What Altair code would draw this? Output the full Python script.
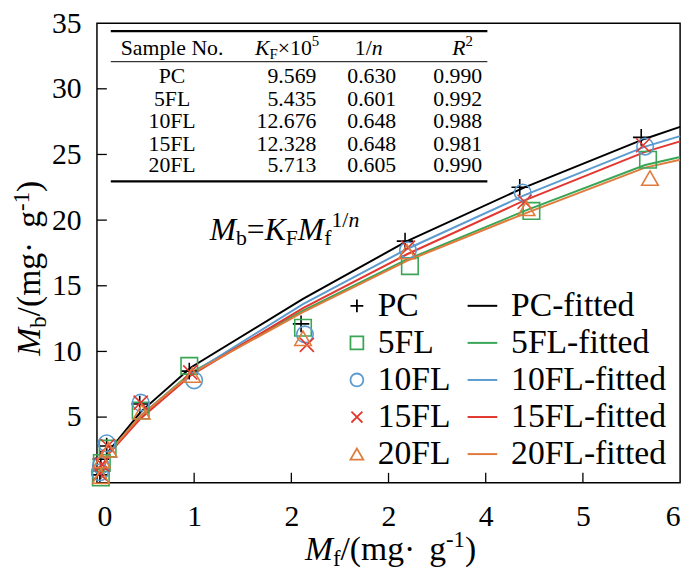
import altair as alt
import pandas as pd

SERIF = "Liberation Serif"

# ---------------- data ----------------
SAMPLES = ["PC", "5FL", "10FL", "15FL", "20FL"]
FITTED = ["PC-fitted", "5FL-fitted", "10FL-fitted", "15FL-fitted", "20FL-fitted"]
COLORS = ["#000000", "#3aa655", "#5b9bd0", "#e2372f", "#e07b3c"]

PC_X = [0.03, 0.04, 0.10, 0.44, 0.95, 2.10, 3.17, 4.35, 5.60]
PC_Y = [0.6, 1.8, 2.8, 6.0, 8.5, 12.1, 18.4, 22.5, 26.3]
FL5_X = [0.04, 0.05, 0.11, 0.45, 0.95, 2.12, 3.22, 4.47, 5.67]
FL5_Y = [0.4, 1.5, 2.6, 5.5, 8.9, 11.8, 16.5, 20.7, 24.6]
FL10_X = [0.03, 0.04, 0.10, 0.45, 1.00, 2.14, 3.20, 4.38, 5.64]
FL10_Y = [0.8, 1.3, 3.0, 6.1, 7.8, 11.3, 17.7, 22.1, 25.6]
FL15_X = [0.03, 0.05, 0.11, 0.45, 0.96, 2.16, 3.20, 4.40, 5.62]
FL15_Y = [0.7, 1.4, 2.8, 6.1, 8.4, 10.5, 17.9, 21.4, 25.7]
FL20_X = [0.04, 0.05, 0.12, 0.46, 0.98, 2.12, 3.19, 4.42, 5.69]
FL20_Y = [0.5, 1.7, 2.5, 5.4, 8.2, 11.0, 17.6, 20.9, 23.2]

FIT_X = [0.04, 0.11, 0.45, 0.97, 2.12, 3.19, 4.40, 5.64, 6.00]
PC_FIT = [0.3, 2.3, 5.4, 8.8, 14.0, 18.4, 22.5, 26.2, 27.1]
FL5_FIT = [0.3, 2.2, 5.1, 8.4, 13.1, 17.0, 20.7, 24.2, 24.8]
FL10_FIT = [0.3, 2.2, 5.1, 8.3, 13.6, 17.8, 21.9, 25.6, 26.4]
FL15_FIT = [0.3, 2.1, 4.9, 8.2, 13.3, 17.4, 21.5, 25.2, 26.0]
FL20_FIT = [0.3, 2.2, 5.1, 8.3, 13.0, 16.9, 20.5, 24.0, 24.6]

TABLE_KF = ["9.569", "5.435", "12.676", "12.328", "5.713"]
TABLE_N = ["0.630", "0.601", "0.648", "0.648", "0.605"]
TABLE_R2 = ["0.990", "0.992", "0.988", "0.981", "0.990"]

X_TICKS = [0, 1, 2, 3, 4, 5, 6]
X_TICK_LABELS = ["0", "1", "2", "2", "4", "5", "6"]
Y_TICKS = [5, 10, 15, 20, 25, 30, 35]

# ---------------- layout ----------------
PX0, PY0 = 98, 20          # plot origin on page
W, H = 688 - PX0, 485 - PY0
SVG_H = 566

PLUS = "M-1,0L1,0M0,-1L0,1"
CROSS = "M-0.85,-0.85L0.85,0.85M-0.85,0.85L0.85,-0.85"
SHAPES = [PLUS, "square", "circle", CROSS, "triangle-up"]

pts_x = [PC_X, FL5_X, FL10_X, FL15_X, FL20_X]
pts_y = [PC_Y, FL5_Y, FL10_Y, FL15_Y, FL20_Y]
fits = [PC_FIT, FL5_FIT, FL10_FIT, FL15_FIT, FL20_FIT]

rows = []
for s, xs, ys in zip(SAMPLES, pts_x, pts_y):
    for a, b in zip(xs, ys):
        rows.append({"sample": s, "x": a, "y": b})
df_pts = pd.DataFrame(rows)

rows = []
for f, ys in zip(FITTED, fits):
    for a, b in zip(FIT_X, ys):
        rows.append({"fit": f, "x": a, "y": b})
df_fit = pd.DataFrame(rows)

label_expr = "[" + ",".join("'%s'" % t for t in X_TICK_LABELS) + "][datum.value]"

xscale = alt.Scale(domain=[0, 6], nice=False, zero=False)
yscale = alt.Scale(domain=[0, 35], nice=False, zero=False)
xaxis = alt.Axis(values=X_TICKS, labelExpr=label_expr, tickSize=0, domain=False, grid=False,
                 labelFont=SERIF, labelFontSize=30, labelColor="black", labelPadding=19,
                 title=None)
yaxis = alt.Axis(values=Y_TICKS, tickSize=0, domain=False, grid=False,
                 labelFont=SERIF, labelFontSize=30, labelColor="black", labelPadding=16,
                 title=None)
X = alt.X("x:Q", scale=xscale, axis=xaxis)
Y = alt.Y("y:Q", scale=yscale, axis=yaxis)

LFS = 34
LEG_Y = 306 - PY0 - LFS / 2
leg_common = dict(orient="none", title=None, labelFont=SERIF, labelFontSize=LFS,
                  labelColor="black", padding=0, rowPadding=3.5, labelLimit=400)

pt_legend = alt.Legend(legendX=344 - PX0, legendY=LEG_Y, symbolSize=170, symbolStrokeWidth=1.8,
                       labelOffset=4, **leg_common)
ln_legend = alt.Legend(legendX=471 - PX0, legendY=LEG_Y, symbolSize=900, symbolStrokeWidth=2,
                       symbolType="stroke", labelOffset=12, **leg_common)

lines = alt.Chart(df_fit).mark_line(strokeWidth=2).encode(
    x=X, y=Y,
    stroke=alt.Stroke("fit:N", scale=alt.Scale(domain=FITTED, range=COLORS), legend=ln_legend),
)
points = alt.Chart(df_pts).mark_point(filled=False, size=280, strokeWidth=1.6, opacity=1).encode(
    x=X, y=Y,
    color=alt.Color("sample:N", scale=alt.Scale(domain=SAMPLES, range=COLORS), legend=pt_legend),
    shape=alt.Shape("sample:N", scale=alt.Scale(domain=SAMPLES, range=SHAPES), legend=pt_legend),
)
xt = alt.Chart(pd.DataFrame({"x": X_TICKS[1:-1]})).mark_rule(color="black", strokeWidth=1.3).encode(
    x=X, y=alt.value(H), y2=alt.value(H - 10))
yt = alt.Chart(pd.DataFrame({"y": Y_TICKS[:-1]})).mark_rule(color="black", strokeWidth=1.3).encode(
    y=Y, x=alt.value(0), x2=alt.value(10))

data_layer = alt.layer(lines, points, xt, yt)

# ---------------- composite texts ----------------
WR = {' ': 250, '/': 278, '(': 333, ')': 333, 'm': 778, 'g': 500, '·': 250, '-': 333,
      '1': 500, 'b': 500, 'f': 333, 'F': 556, '=': 564, '×': 564, '0': 500, '5': 500,
      '2': 500, 'n': 500}
WI = {'M': 833, 'K': 667, 'n': 500, 'R': 611, 'f': 278}


def tw(t, size, italic):
    d = WI if italic else WR
    return sum(d.get(c, 500) for c in t) * size / 1000.0


def compose(pieces, start, base, angle=0, center=False):
    total = sum(tw(t, s, it) for t, it, s, sh in pieces)
    if center:
        start = start - total / 2 if angle == 0 else start + total / 2
    out = []
    pos = start
    for t, it, s, sh in pieces:
        if angle == 0:
            out.append((t, it, s, pos, base + sh, 0))
            pos += tw(t, s, it)
        else:
            out.append((t, it, s, base + sh, pos, 270))
            pos -= tw(t, s, it)
    return out


texts = []
# equation
E, ES = 32, 22
texts += compose([("M", True, E, 0), ("b", False, ES, 5), ("=", False, E, 0), ("K", True, E, 0),
                  ("F", False, ES, 5), ("M", True, E, 0), ("f", False, ES, 5),
                  ("1/", False, ES, -13), ("n", True, ES, -13)], 212, 239)
# axis titles
A, AS = 34, 23
texts += compose([("M", True, A, 0), ("f", False, AS, 6), ("/(mg", False, A, 0), (" · ", False, A, 0),
                  ("g", False, A, 0), ("-1", False, AS, -13), (")", False, A, 0)], 395, 563, center=True)
texts += compose([("M", True, A, 0), ("b", False, AS, 6), ("/(mg", False, A, 0), (" · ", False, A, 0),
                  ("g", False, A, 0), ("-1", False, AS, -11), (")", False, A, 0)], 268, 40,
                 angle=270, center=True)
# table header
T, TS = 22, 15
HB = 52
texts += compose([("K", True, T, 0), ("F", False, TS, 4), ("×10", False, T, 0), ("5", False, TS, -9)], 258, HB)
texts += compose([("1/", False, T, 0), ("n", True, T, 0)], 373, HB, center=True)
texts += compose([("R", True, T, 0), ("2", False, TS, -9)], 468, HB, center=True)

centered = [("Sample No.", 174, HB)]
right = []
ROW_B = [81, 104, 126, 149, 171]
for i, s in enumerate(SAMPLES):
    centered.append((s, 174, ROW_B[i]))
    right.append((TABLE_KF[i], 320, ROW_B[i]))
    centered.append((TABLE_N[i], 376, ROW_B[i]))
    centered.append((TABLE_R2[i], 463, ROW_B[i]))

layers = []
groups = {}
for t, it, s, x, y, ang in texts:
    groups.setdefault((it, s, ang), []).append({"t": t, "px": x - PX0, "py": y - PY0})
for (it, s, ang), recs in groups.items():
    layers.append(alt.Chart(pd.DataFrame(recs)).mark_text(
        font=SERIF, fontSize=s, fontStyle="italic" if it else "normal", align="left",
        baseline="alphabetic", angle=ang, color="black").encode(
        x=alt.X("px:Q", scale=None, axis=None), y=alt.Y("py:Q", scale=None, axis=None), text="t:N"))

for recs, al in ((centered, "center"), (right, "right")):
    df = pd.DataFrame([{"t": t, "px": x - PX0, "py": y - PY0} for t, x, y in recs])
    layers.append(alt.Chart(df).mark_text(font=SERIF, fontSize=T, align=al, baseline="alphabetic",
                                          color="black").encode(
        x=alt.X("px:Q", scale=None, axis=None), y=alt.Y("py:Q", scale=None, axis=None), text="t:N"))

# table rules
rules = pd.DataFrame([
    {"x": 112 - PX0, "x2": 493 - PX0, "y": 28 - PY0, "w": 2.2},
    {"x": 112 - PX0, "x2": 493 - PX0, "y": 59 - PY0, "w": 1.0},
    {"x": 112 - PX0, "x2": 493 - PX0, "y": 180 - PY0, "w": 2.2},
])
layers.append(alt.Chart(rules).mark_rule(color="black").encode(
    x=alt.X("x:Q", scale=None, axis=None), x2="x2:Q", y=alt.Y("y:Q", scale=None, axis=None),
    strokeWidth=alt.StrokeWidth("w:Q", scale=None, legend=None)))

chart = alt.layer(data_layer, *layers).resolve_scale(x="independent", y="independent").properties(
    width=W, height=H,
    autosize=alt.AutoSizeParams(type="none"),
    padding={"left": PX0 - 8, "top": PY0 - 8, "right": 9, "bottom": SVG_H - H - (PY0 - 8)},
    background="white",
).configure(font=SERIF).configure_view(stroke="black", strokeWidth=1.5).configure_axis(
    labelFont=SERIF).configure_legend(labelFont=SERIF)

chart.save("out.html", embed_options={"renderer": "svg", "actions": False})
